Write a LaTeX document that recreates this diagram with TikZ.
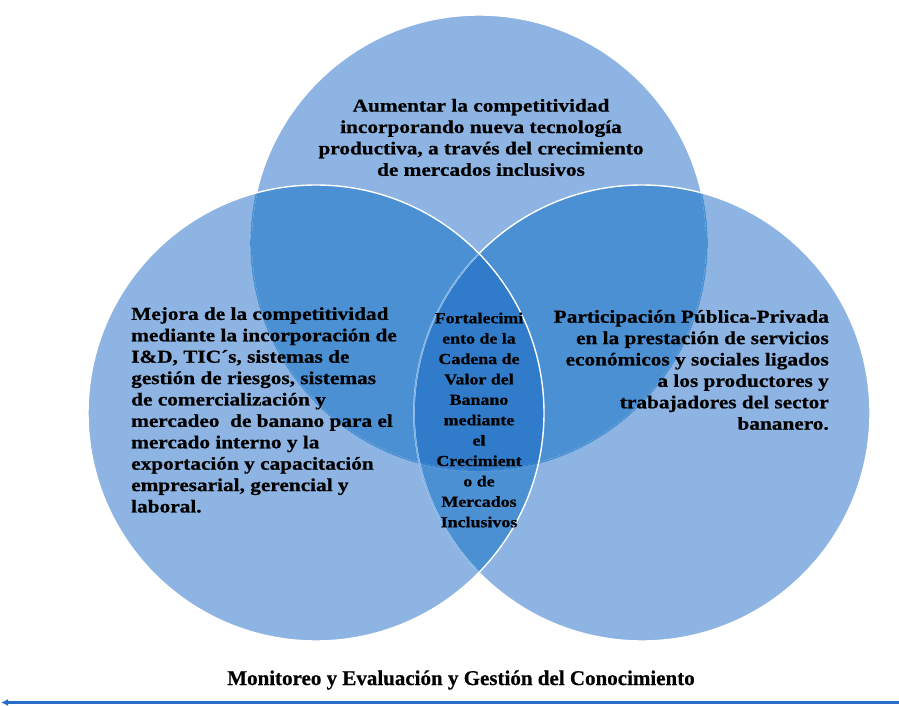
\documentclass[tikz,border=0pt]{standalone}
\usepackage{fontspec}
\setmainfont{Liberation Serif}[FakeStretch=1.17, BoldFeatures={FakeBold=0.7}]
\newfontfamily\bottomfont{Liberation Serif}[BoldFeatures={FakeBold=0.5}]
\usetikzlibrary{arrows.meta}
\definecolor{lightb}{RGB}{141,180,226}
\definecolor{midb}{RGB}{74,144,211}
\definecolor{darkb}{RGB}{48,124,202}
\definecolor{faintb}{RGB}{128,178,228}
\definecolor{arrowb}{RGB}{40,110,200}
\begin{document}
\begin{tikzpicture}[x=1pt,y=1pt,
  bigtxt/.style={font=\bfseries\fontsize{18.2}{21.4}\selectfont, inner sep=0pt, text=black},
  midtxt/.style={font=\bfseries\fontsize{15.3}{20.4}\selectfont, inner sep=0pt, text=black},
  bottxt/.style={font=\bottomfont\bfseries\fontsize{21}{24}\selectfont, inner sep=0pt, text=black},
  outl/.style={draw=white, line width=1.4pt},
  faintl/.style={draw=faintb, line width=1.4pt},
  hiddenl/.style={draw=midb, line width=1.6pt}]
\useasboundingbox (0,0) rectangle (899,705);
\coordinate (T) at (479,462);
\coordinate (L) at (316,292);
\coordinate (R) at (642,292);
% base fills
\fill[lightb] (T) circle (228pt);
\fill[lightb] (L) circle (228pt);
\fill[lightb] (R) circle (228pt);
% pairwise overlaps
\begin{scope}
  \clip (T) circle (228pt);
  \fill[midb] (L) circle (228pt);
  \fill[midb] (R) circle (228pt);
\end{scope}
\begin{scope}
  \clip (L) circle (228pt);
  \fill[midb] (R) circle (228pt);
\end{scope}
% triple overlap
\begin{scope}
  \clip (T) circle (228pt);
  \clip (L) circle (228pt);
  \fill[darkb] (R) circle (228pt);
\end{scope}
% outlines: top, then right, then left
\path[outl] (T) circle (228pt);
\begin{scope}
  \clip (L) circle (228pt);
  \path[hiddenl] (T) circle (228pt);
\end{scope}
\begin{scope}
  \clip (R) circle (228pt);
  \path[hiddenl] (T) circle (228pt);
\end{scope}
\begin{scope}
  \clip (T) circle (228pt);
  \clip (L) circle (228pt);
  \clip (R) circle (228pt);
  \path[draw=darkb, line width=1.6pt] (T) circle (228pt);
\end{scope}
\path[outl] (R) circle (228pt);
\begin{scope}
  \clip (L) circle (228pt);
  \path[faintl] (R) circle (228pt);
\end{scope}
\path[outl] (L) circle (228pt);
% texts
\node[bigtxt, align=center] (ttop) at (481,567.5)
  {Aumentar la competitividad\\incorporando nueva tecnología\\productiva, a través del crecimiento\\de mercados inclusivos};
\node[bigtxt, align=left, anchor=west] (tleft) at (131,295)
  {Mejora de la competitividad\\mediante la incorporación de\\I\&D, TIC´s, sistemas de\\gestión de riesgos, sistemas\\de comercialización y\\mercadeo\ \ de banano para el\\mercado interno y la\\exportación y capacitación\\empresarial, gerencial y\\laboral.};
\node[bigtxt, align=right, anchor=east] (tright) at (829,335)
  {Participación Pública-Privada\\en la prestación de servicios\\económicos y sociales ligados\\a los productores y\\trabajadores del sector\\bananero.};
\node[midtxt, align=center] (tmid) at (479,285)
  {Fortalecimi\\ento de la\\Cadena de\\Valor del\\Banano\\mediante\\el\\Crecimient\\o de\\Mercados\\Inclusivos};
\node[bottxt] (tbot) at (461,25)
  {Monitoreo y Evaluación y Gestión del Conocimiento};
% arrow
\coordinate (arrR) at (899,2.5);
\coordinate (arrL) at (1,2.5);
\draw[arrowb, line width=2.6pt, -{Latex[length=7pt,width=7pt]}] (arrR) -- (arrL);
\end{tikzpicture}
\end{document}
